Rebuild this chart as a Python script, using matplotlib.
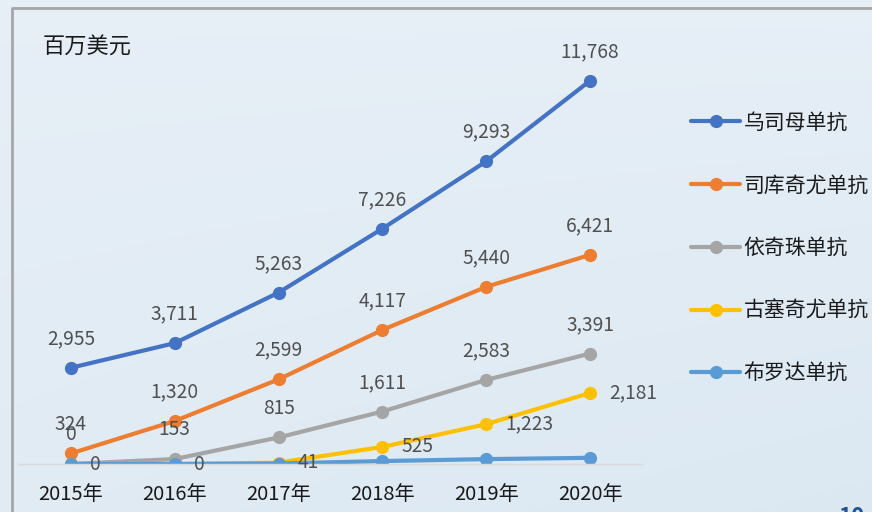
import numpy as np
import matplotlib.pyplot as plt

plt.rcParams['font.family'] = ['Noto Sans CJK SC', 'DejaVu Sans']

years = ['2015年', '2016年', '2017年', '2018年', '2019年', '2020年']
names = ['乌司母单抗', '司库奇尤单抗', '依奇珠单抗', '古塞奇尤单抗', '布罗达单抗']
ustekinumab = [2955, 3711, 5263, 7226, 9293, 11768]
secukinumab = [324, 1320, 2599, 4117, 5440, 6421]
ixekizumab = [0, 153, 815, 1611, 2583, 3391]
guselkumab = [0, 0, 41, 525, 1223, 2181]
brodalumab = [0, 0, 15, 90, 150, 190]
colors = ['#4472C4', '#ED7D31', '#A5A5A5', '#FFC000', '#5B9BD5']

fig = plt.figure(figsize=(8.72, 5.12), dpi=100)

# sky-like background
bg = fig.add_axes([0, 0, 1, 1], zorder=-10)
yy, xx = np.mgrid[0:1:200j, 0:1:200j]
t = 0.55 * yy + 0.25 * (1 - xx) * (1 - yy)
c_top = np.array([0.94, 0.96, 0.98])
c_bot = np.array([0.86, 0.91, 0.95])
img = c_bot + (c_top - c_bot) * t[..., None]
bg.imshow(img, origin='lower', aspect='auto', extent=[0, 1, 0, 1])
# frame
bg.plot([12 / 872, 12 / 872, 1.0], [0, 1 - 8 / 512, 1 - 8 / 512],
        color='#a6a6a6', lw=2)
bg.set_xlim(0, 1)
bg.set_ylim(0, 1)
bg.axis('off')

ax = fig.add_axes([19 / 872, 48 / 512, 623 / 872, 456 / 512])
ax.set_facecolor('none')
x = np.arange(len(years))
series = [ustekinumab, secukinumab, ixekizumab, guselkumab, brodalumab]
for vals, name, c in zip(series, names, colors):
    ax.plot(x, vals, color=c, lw=3, marker='o', ms=8.5, label=name,
            solid_capstyle='round')

lab = dict(textcoords='offset points', va='center', fontsize=13.8,
           color='#505050', fontweight='light')
for i in range(len(years)):
    ax.annotate(f'{ustekinumab[i]:,}', (x[i], ustekinumab[i]),
                xytext=(0, 21), ha='center', **lab)
    ax.annotate(f'{secukinumab[i]:,}', (x[i], secukinumab[i]),
                xytext=(0, 21), ha='center', **lab)
    ax.annotate(f'{ixekizumab[i]:,}', (x[i], ixekizumab[i]),
                xytext=(0, 21), ha='center', **lab)
    ax.annotate(f'{guselkumab[i]:,}', (x[i], guselkumab[i]),
                xytext=(14, 0), ha='left', **lab)

ax.set_xlim(-0.5, len(years) - 0.5)
ax.set_ylim(0, 14000)
ax.set_xticks(x)
ax.set_xticklabels(years, fontsize=14.5, color='#1a1a1a')
ax.tick_params(axis='x', length=0, pad=14.5)
ax.set_yticks([])
for s in ['top', 'right', 'left']:
    ax.spines[s].set_visible(False)
ax.spines['bottom'].set_color('#d9d9d9')
ax.spines['bottom'].set_linewidth(1)

fig.text(43 / 872, 1 - 47 / 512, '百万美元', fontsize=16, va='center',
         ha='left', color='#1a1a1a')

leg = fig.legend(loc='upper left', bbox_to_anchor=(683 / 872, 1 - 103 / 512),
                 frameon=False, fontsize=15, handlelength=2.35,
                 labelspacing=1.96, handletextpad=0.15, borderaxespad=0)
for txt in leg.get_texts():
    txt.set_color('#1a1a1a')

fig.text(838 / 872, -6 / 512, '10', fontsize=16, fontweight='bold',
         color='#1f5597', va='center', ha='left')

fig.savefig('out.png', dpi=100)
